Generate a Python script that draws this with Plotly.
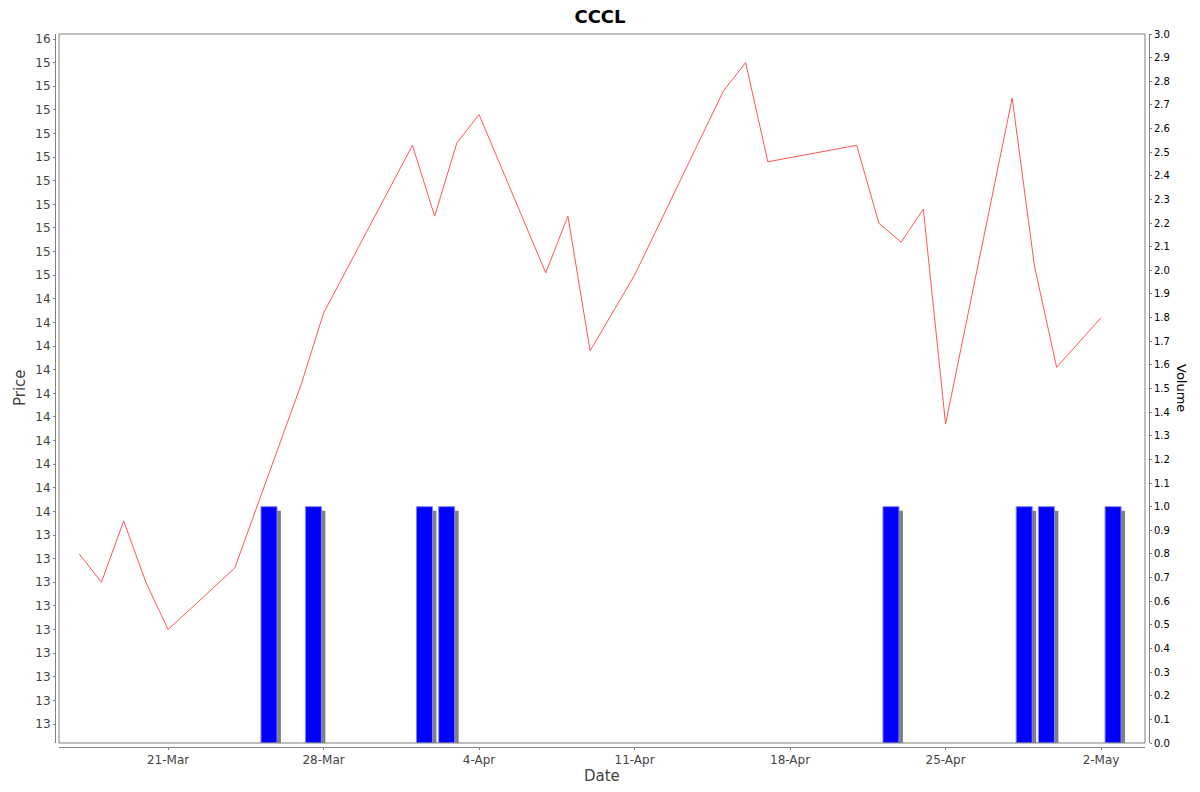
import pandas as pd
import plotly.graph_objects as go

# ---------------- data ----------------
price_dates = ["2025-03-17", "2025-03-18", "2025-03-19", "2025-03-20", "2025-03-21",
               "2025-03-24", "2025-03-27", "2025-03-28", "2025-04-01", "2025-04-02",
               "2025-04-03", "2025-04-04", "2025-04-07", "2025-04-08", "2025-04-09",
               "2025-04-11", "2025-04-15", "2025-04-16", "2025-04-17", "2025-04-21",
               "2025-04-22", "2025-04-23", "2025-04-24", "2025-04-25", "2025-04-28",
               "2025-04-29", "2025-04-30", "2025-05-02"]
prices = [13.82, 13.70, 13.96, 13.70, 13.50,
          13.76, 14.54, 14.84, 15.55, 15.25,
          15.56, 15.68, 15.01, 15.25, 14.68,
          15.00, 15.78, 15.90, 15.48, 15.55,
          15.22, 15.14, 15.28, 14.37, 15.75,
          15.04, 14.61, 14.82]

volume_dates = ["2025-03-25", "2025-03-27", "2025-04-01", "2025-04-02",
                "2025-04-22", "2025-04-28", "2025-04-29", "2025-05-02"]
volumes = [1.0, 1.0, 1.0, 1.0, 1.0, 1.0, 1.0, 1.0]

date_tick_vals = ["2025-03-21", "2025-03-28", "2025-04-04", "2025-04-11",
                  "2025-04-18", "2025-04-25", "2025-05-02"]
date_tick_text = ["21-Mar", "28-Mar", "4-Apr", "11-Apr", "18-Apr", "25-Apr", "2-May"]

price_tick_vals = [13.1, 13.2, 13.3, 13.4, 13.5, 13.6, 13.7, 13.8, 13.9,
                   14.0, 14.1, 14.2, 14.3, 14.4, 14.5, 14.6, 14.7, 14.8, 14.9,
                   15.0, 15.1, 15.2, 15.3, 15.4, 15.5, 15.6, 15.7, 15.8, 15.9,
                   16.0]
price_tick_text = ["13"] * 9 + ["14"] * 10 + ["15"] * 10 + ["16"]

# ---------------- layout geometry ----------------
# The page body has an 8px margin, so the figure is drawn 8px smaller
# and all window positions are shifted by that offset.
OFF = 8
W, H = 1200 - 2 * OFF, 792 - 2 * OFF
# paper (axis frame) in window pixels: x 55..1149, y 34..747
ML = 55 - OFF
MT = 34 - OFF
MR = W - (1149 - OFF)
MB = H - (747 - OFF)
PW = W - ML - MR
PH = H - MT - MB
GAP = 4            # axis offset from data area

FONT = "DejaVu Sans"
GRAY = "#808080"


def px_x(px):
    return (px - OFF - ML) / PW


def px_y(py):
    return (H + OFF - MB - py) / PH


bar_center = pd.to_datetime(volume_dates) + pd.Timedelta(hours=13)
shadow_center = bar_center + pd.Timedelta(hours=4.3)
bar_width = 0.72 * 86400000
shadow_vol = [v - 0.017 for v in volumes]

fig = go.Figure()

fig.add_trace(go.Scatter(
    x=price_dates, y=prices, mode="lines",
    line=dict(color="#FF5555", width=1),
    yaxis="y", showlegend=False, hoverinfo="x+y"))

fig.add_trace(go.Bar(
    x=shadow_center, y=shadow_vol, width=bar_width,
    marker=dict(color="#808080", line=dict(width=0)),
    yaxis="y2", showlegend=False, hoverinfo="skip"))

fig.add_trace(go.Bar(
    x=bar_center, y=volumes, width=bar_width,
    marker=dict(color="#0000FF", line=dict(color="#8080FF", width=1)),
    yaxis="y2", showlegend=False))

fig.update_layout(
    width=W, height=H,
    margin=dict(l=ML, r=MR, t=MT, b=MB, pad=0, autoexpand=False),
    paper_bgcolor="white", plot_bgcolor="white",
    barmode="overlay",
    font=dict(family=FONT, color="#444444"),
    title=dict(text="<b>CCCL</b>", x=(600 - OFF) / W, xanchor="center",
               y=1, yanchor="top", pad=dict(t=2),
               font=dict(family=FONT, size=18, color="black")),
    xaxis=dict(
        type="date",
        domain=[GAP / PW, 1 - GAP / PW],
        anchor="free", position=0,
        range=["2025-03-16 02:08", "2025-05-03 23:30"],
        tickmode="array", tickvals=date_tick_vals, ticktext=date_tick_text,
        ticks="outside", ticklen=2, tickcolor=GRAY,
        showline=True, linecolor=GRAY, linewidth=1,
        showgrid=False, zeroline=False,
        tickfont=dict(family=FONT, size=12, color="#444444"),
    ),
    yaxis=dict(
        domain=[GAP / PH, 1],
        anchor="free", position=0, side="left",
        range=[13.0196, 16.0212],
        tickmode="array", tickvals=price_tick_vals, ticktext=price_tick_text,
        ticks="outside", ticklen=2, tickcolor=GRAY,
        showline=True, linecolor=GRAY, linewidth=1,
        showgrid=False, zeroline=False,
        tickfont=dict(family=FONT, size=12, color="#444444"),
    ),
    yaxis2=dict(
        overlaying="y", anchor="free", position=1, side="right",
        range=[0, 3.0],
        tick0=0, dtick=0.1, tickformat=".1f",
        ticks="outside", ticklen=2, tickcolor=GRAY,
        showline=True, linecolor=GRAY, linewidth=1,
        showgrid=False, zeroline=False,
        tickfont=dict(family=FONT, size=10, color="black"),
    ),
    shapes=[dict(
        type="rect", xref="paper", yref="paper",
        x0=GAP / PW, x1=1 - GAP / PW, y0=GAP / PH, y1=1,
        line=dict(color=GRAY, width=1), fillcolor="rgba(0,0,0,0)", layer="above")],
    annotations=[
        dict(text="Price", xref="paper", yref="paper",
             x=px_x(20), y=px_y(388), textangle=-90,
             showarrow=False, xanchor="center", yanchor="middle",
             font=dict(family=FONT, size=15, color="#444444")),
        dict(text="Date", xref="paper", yref="paper",
             x=px_x(602), y=px_y(776),
             showarrow=False, xanchor="center", yanchor="middle",
             font=dict(family=FONT, size=15, color="#444444")),
        dict(text="Volume", xref="paper", yref="paper",
             x=px_x(1182), y=px_y(388), textangle=90,
             showarrow=False, xanchor="center", yanchor="middle",
             font=dict(family=FONT, size=13, color="black")),
    ],
)

fig.write_html("out.html")
